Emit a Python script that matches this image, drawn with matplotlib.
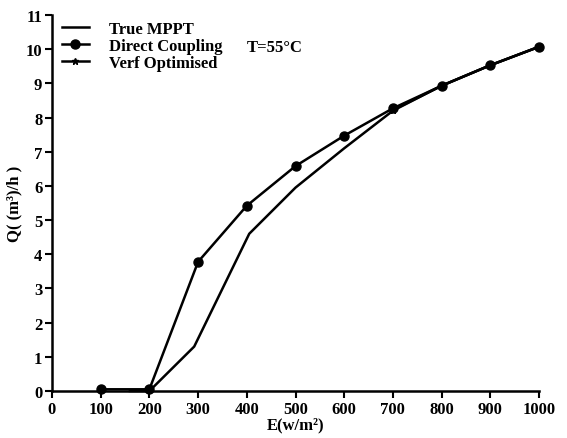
import matplotlib
matplotlib.use("Agg")
import matplotlib.pyplot as plt

irradiance_dc = [100, 200, 300, 400, 500, 600, 700, 800, 900, 1000]
flow_dc = [0.05, 0.05, 3.78, 5.42, 6.58, 7.47, 8.27, 8.93, 9.53, 10.07]

irradiance_mppt = [160, 200, 292, 405, 500, 600, 700, 800, 900, 1000]
flow_mppt = [0.0, 0.0, 1.3, 4.6, 5.95, 7.1, 8.2, 8.93, 9.53, 10.07]

irradiance_vo = [700, 800, 900, 1000]
flow_vo = [8.22, 8.93, 9.53, 10.07]

xticks = [0, 100, 200, 300, 400, 500, 600, 700, 800, 900, 1000]
yticks = list(range(0, 12))

plt.rcParams['font.family'] = ['Liberation Serif', 'DejaVu Serif']
plt.rcParams['font.weight'] = 'bold'

fig = plt.figure(figsize=(5.67, 4.39), dpi=100)
ax = fig.add_axes([52/567, 1-392/439, (539-52)/567, (392-16)/439])

ax.plot(irradiance_mppt, flow_mppt, color='black', lw=1.8, label='True MPPT', clip_on=False, zorder=3)
ax.plot(irradiance_dc, flow_dc, color='black', lw=1.8, marker='o', ms=6.5, label='Direct Coupling', clip_on=False, zorder=4)
ax.plot(irradiance_vo, flow_vo, color='black', lw=1.8, marker='*', ms=5, label='Verf Optimised', clip_on=False, zorder=2)

ax.set_xlim(0, 1000)
ax.set_ylim(0, 11)
ax.set_xticks(xticks)
ax.set_yticks(yticks)
ax.spines['top'].set_visible(False)
ax.spines['right'].set_visible(False)
ax.spines['left'].set_linewidth(1.8)
ax.spines['bottom'].set_linewidth(1.8)
ax.tick_params(direction='out', length=5, width=1.5, labelsize=12, pad=2)
for lab in ax.get_xticklabels() + ax.get_yticklabels():
    lab.set_fontweight('bold')

ax.set_xlabel('E(w/m²)', fontsize=12, fontweight='bold', labelpad=0)
ax.set_ylabel('Q( (m³)/h )', fontsize=12, fontweight='bold', labelpad=2)

ax.text(400, 9.95, 'T=55°C', fontsize=12, fontweight='bold')

leg = ax.legend(loc='upper left', bbox_to_anchor=(0.0, 1.01), frameon=False,
                fontsize=12, handlelength=1.6, handletextpad=1.2, labelspacing=0.05,
                borderaxespad=0.2)

fig.savefig('out.png', dpi=100)
